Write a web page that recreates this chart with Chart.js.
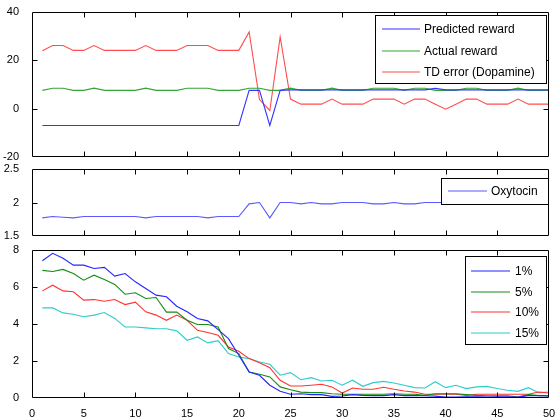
<!DOCTYPE html>
<html>
<head>
<meta charset="utf-8">
<script src="https://cdn.jsdelivr.net/npm/chart.js@4/dist/chart.umd.min.js"></script>
<style>
  body { margin: 0; background: #fff; }
  #wrap { position: relative; width: 557px; height: 419px; }
  #wrap canvas { position: absolute; left: 0; top: 0; }
</style>
</head>
<body>
<div id="wrap">
  <canvas id="top-chart" width="557" height="419"></canvas>
  <canvas id="mid-chart" width="557" height="419"></canvas>
  <canvas id="bot-chart" width="557" height="419"></canvas>
</div>
<script>
var trials = [1, 2, 3, 4, 5, 6, 7, 8, 9, 10, 11, 12, 13, 14, 15, 16, 17, 18, 19, 20,
    21, 22, 23, 24, 25, 26, 27, 28, 29, 30, 31, 32, 33, 34, 35, 36, 37, 38, 39, 40,
    41, 42, 43, 44, 45, 46, 47, 48, 49, 50];

// top panel
var predictedReward = [-7, -7, -7, -7, -7, -7, -7, -7, -7, -7, -7, -7, -7, -7, -7, -7, -7, -7, -7, -7,
    7.5, 7.5, -7, 7.5, 7.7, 7.7, 7.7, 7.7, 7.7, 7.7, 7.7, 7.7, 7.7, 7.7, 7.7, 7.7, 7.7, 7.7, 8.3, 7.7,
    7.7, 7.7, 7.7, 7.7, 7.7, 7.7, 7.7, 7.7, 7.7, 7.7];
var actualReward = [7.5, 8.4, 8.4, 7.5, 7.5, 8.4, 7.5, 7.5, 7.5, 7.5, 8.4, 7.5, 7.5, 7.5, 8.4, 8.4, 8.4, 7.5, 7.5, 7.5,
    8.4, 8.4, 7.5, 7.5, 8.4, 7.5, 7.5, 7.5, 8.4, 7.5, 7.5, 7.5, 8.4, 8.4, 8.4, 7.5, 8.4, 8.4, 7.5, 7.5,
    7.5, 8.4, 8.4, 7.5, 7.5, 7.5, 8.4, 7.5, 7.5, 7.5];
var tdError = [23.8, 26, 26, 24, 24, 26, 24, 24, 24, 24, 26, 24, 24, 24, 26, 26, 26, 24, 24, 24,
    31.6, 3.7, -0.8, 29.6, 3.9, 1.8, 1.8, 1.8, 3.9, 1.8, 1.8, 1.8, 3.9, 3.9, 3.9, 1.8, 3.9, 3.9, 1.8, -0.3,
    1.8, 3.9, 3.9, 1.8, 1.8, 1.8, 3.9, 1.8, 1.8, 1.8];

// middle panel
var oxytocin = [1.77, 1.79, 1.78, 1.77, 1.79, 1.79, 1.79, 1.79, 1.79, 1.79, 1.77, 1.79, 1.79, 1.79, 1.79, 1.79, 1.77, 1.79, 1.79, 1.79,
    1.98, 2.0, 1.77, 2.0, 2.0, 1.98, 2.0, 1.98, 1.98, 2.0, 2.0, 2.0, 1.98, 1.98, 2.0, 1.98, 1.98, 2.0, 2.0, 2.0,
    2.0, 2.0, 2.0, 2.0, 1.98, 1.98, 1.98, 2.0, 2.0, 2.0];

// bottom panel
var pct1 = [7.42, 7.82, 7.55, 7.18, 7.18, 7.0, 7.06, 6.59, 6.73, 6.28, 5.92, 5.56, 5.47, 4.96, 4.66, 4.3, 4.17, 3.7, 3.21, 2.31,
    1.41, 1.23, 0.69, 0.36, 0.2, 0.23, 0.18, 0.18, 0.09, 0.11, 0.18, 0.14, 0.13, 0.13, 0.18, 0.13, 0.13, 0.12, 0.1, 0.05,
    0.05, 0.06, 0.06, 0.05, 0.06, 0.06, 0.05, 0.13, 0.13, 0.11];
var pct5 = [6.9, 6.84, 6.95, 6.73, 6.37, 6.64, 6.41, 6.14, 5.61, 5.69, 5.38, 5.43, 4.64, 4.64, 4.2, 3.97, 3.97, 3.84, 2.67, 2.4,
    1.41, 1.28, 1.14, 0.6, 0.45, 0.32, 0.29, 0.29, 0.23, 0.2, 0.2, 0.2, 0.2, 0.2, 0.23, 0.2, 0.2, 0.14, 0.23, 0.23,
    0.23, 0.18, 0.14, 0.12, 0.12, 0.12, 0.05, 0.18, 0.13, 0.13];
var pct10 = [5.79, 6.1, 5.79, 5.74, 5.29, 5.32, 5.23, 5.32, 5.05, 5.18, 4.66, 4.48, 4.2, 4.48, 4.2, 3.66, 3.54, 3.39, 2.76, 2.53,
    2.13, 1.91, 1.64, 0.96, 0.65, 0.65, 0.69, 0.74, 0.6, 0.27, 0.54, 0.47, 0.47, 0.58, 0.47, 0.38, 0.32, 0.2, 0.2, 0.2,
    0.2, 0.14, 0.2, 0.2, 0.2, 0.2, 0.2, 0.2, 0.32, 0.27];
var pct15 = [4.87, 4.87, 4.6, 4.53, 4.39, 4.48, 4.62, 4.3, 3.84, 3.84, 3.79, 3.74, 3.74, 3.63, 3.12, 3.3, 2.98, 3.1, 2.4, 2.22,
    2.13, 1.95, 1.82, 1.23, 1.37, 0.99, 1.1, 0.92, 0.96, 0.69, 0.96, 0.63, 0.83, 0.9, 0.81, 0.69, 0.56, 0.54, 0.88, 0.56,
    0.69, 0.51, 0.6, 0.63, 0.51, 0.42, 0.36, 0.56, 0.29, 0.32];

var FONT = "'Liberation Sans', Arial, sans-serif";
Chart.defaults.font.family = FONT;
Chart.defaults.font.size = 11;
Chart.defaults.color = '#000';

// box with inward tick marks on all four sides, plus a legend box inside the plot
var framePlugin = {
    id: 'frame',
    afterDatasetsDraw: function (chart, args, opts) {
        var ctx = chart.ctx;
        var a = chart.chartArea;
        var L = Math.round(a.left) + 0.5, R = Math.round(a.right) - 0.5;
        var T = Math.round(a.top) + 0.5, B = Math.round(a.bottom) - 0.5;
        var xs = chart.scales.x, ys = chart.scales.y;

        ctx.save();
        ctx.strokeStyle = '#000';
        ctx.lineWidth = 1;
        ctx.beginPath();
        ctx.rect(L, T, R - L, B - T);
        xs.ticks.forEach(function (t) {
            var px = Math.round(xs.getPixelForValue(t.value)) + 0.5;
            if (px <= L + 1 || px >= R - 1) return;
            ctx.moveTo(px, B); ctx.lineTo(px, B - 5);
            ctx.moveTo(px, T); ctx.lineTo(px, T + 5);
        });
        ys.ticks.forEach(function (t) {
            var py = Math.round(ys.getPixelForValue(t.value)) + 0.5;
            if (py <= T + 1 || py >= B - 1) return;
            ctx.moveTo(L, py); ctx.lineTo(L + 5, py);
            ctx.moveTo(R, py); ctx.lineTo(R - 5, py);
        });
        ctx.stroke();

        var lg = opts.legend;
        if (lg) {
            ctx.fillStyle = '#fff';
            ctx.fillRect(lg.x, lg.y, lg.w, lg.h);
            ctx.strokeStyle = '#000';
            ctx.strokeRect(lg.x + 0.5, lg.y + 0.5, lg.w, lg.h);
            ctx.font = '12px ' + FONT;
            ctx.textBaseline = 'middle';
            ctx.textAlign = 'left';
            chart.data.datasets.forEach(function (ds, i) {
                var ry = Math.round(lg.rows[i]);
                ctx.strokeStyle = ds.borderColor;
                ctx.lineWidth = 1.2;
                ctx.beginPath();
                ctx.moveTo(lg.lineFrom, ry);
                ctx.lineTo(lg.lineTo, ry);
                ctx.stroke();
                ctx.fillStyle = '#000';
                ctx.fillText(ds.label, lg.textX, ry + 1);
            });
        }
        ctx.restore();
    }
};

function line(label, values, color) {
    return {
        label: label,
        data: values,
        borderColor: color,
        borderWidth: 1.1,
        pointRadius: 0,
        tension: 0,
        fill: false
    };
}

function makePanel(id, datasets, cfg) {
    new Chart(document.getElementById(id), {
        type: 'line',
        data: { labels: trials, datasets: datasets },
        plugins: [framePlugin],
        options: {
            responsive: false,
            animation: false,
            events: [],
            layout: { padding: { top: cfg.top, bottom: cfg.bottom, left: 0, right: 8 } },
            plugins: {
                legend: { display: false },
                tooltip: { enabled: false },
                frame: { legend: cfg.legend }
            },
            scales: {
                x: {
                    type: 'linear',
                    min: 0,
                    max: 50,
                    ticks: { display: cfg.showX, stepSize: 5, padding: 1, maxRotation: 0 },
                    grid: { display: false },
                    border: { display: false },
                    afterFit: function (s) { s.height = cfg.showX ? 21 : 0; }
                },
                y: {
                    min: cfg.yMin,
                    max: cfg.yMax,
                    ticks: {
                        stepSize: cfg.yStep,
                        padding: 5,
                        callback: function (v) { return String(Math.round(v * 10) / 10); }
                    },
                    grid: { display: false },
                    border: { display: false },
                    afterFit: function (s) { s.width = 32; }
                }
            }
        }
    });
}

makePanel('top-chart', [
    line('Predicted reward', predictedReward, '#3535ff'),
    line('Actual reward', actualReward, '#35a535'),
    line('TD error (Dopamine)', tdError, '#ff4d4d')
], {
    top: 10, bottom: 262, yMin: -20, yMax: 40, yStep: 20, showX: false,
    legend: { x: 375, y: 15, w: 171, h: 68, rows: [29, 51, 72], lineFrom: 382, lineTo: 420, textX: 424 }
});

makePanel('mid-chart', [
    line('Oxytocin', oxytocin, '#5a5aff')
], {
    top: 169, bottom: 183, yMin: 1.5, yMax: 2.5, yStep: 0.5, showX: false,
    legend: { x: 441, y: 178, w: 107, h: 26, rows: [191], lineFrom: 448, lineTo: 487, textX: 491 }
});

makePanel('bot-chart', [
    line('1%', pct1, '#2525ff'),
    line('5%', pct5, '#168c16'),
    line('10%', pct10, '#ff3333'),
    line('15%', pct15, '#2ecccc')
], {
    top: 250, bottom: 0, yMin: 0, yMax: 8, yStep: 2, showX: true,
    legend: { x: 465, y: 256, w: 81, h: 88, rows: [271, 292, 312, 333], lineFrom: 471, lineTo: 510, textX: 515 }
});
</script>
</body>
</html>
